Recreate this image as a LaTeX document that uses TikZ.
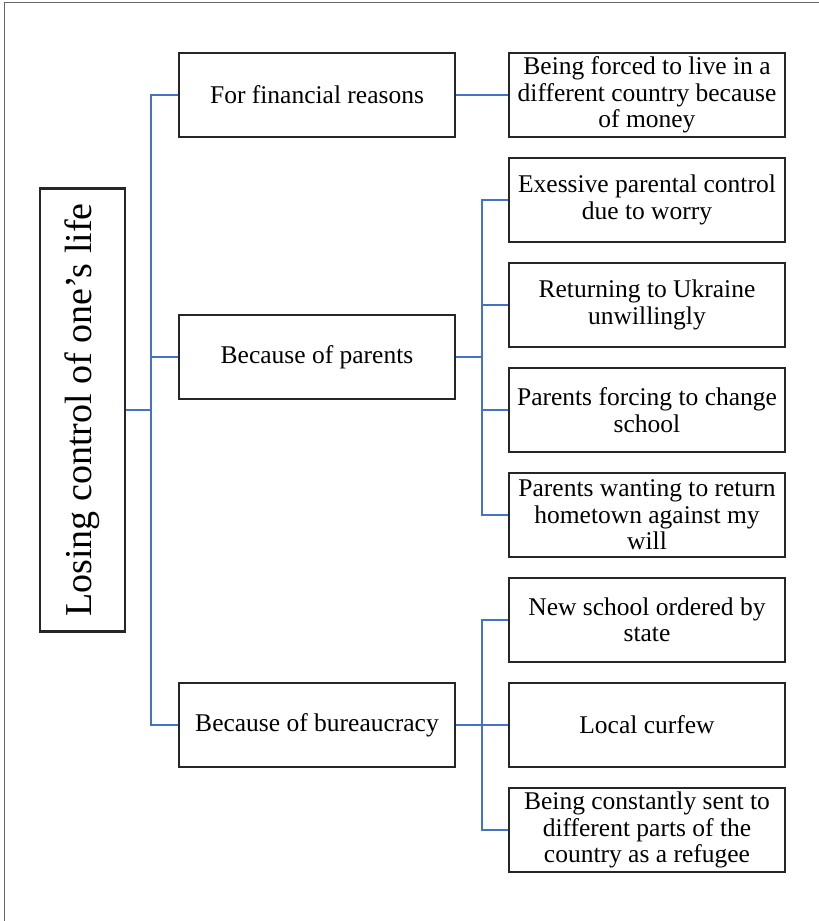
\documentclass[tikz,border=0pt]{standalone}
\usepackage{fontspec}
\setmainfont{Liberation Serif}
\usetikzlibrary{positioning}

\definecolor{linkblue}{HTML}{4472C4}
\definecolor{boxgray}{HTML}{262626}

\tikzset{
	leaf/.style={draw=boxgray, line width=2.4pt, minimum width=276pt, minimum height=84pt,
		align=center, inner sep=0pt,
		font=\fontsize{25.5}{26.5}\selectfont},
	link/.style={draw=linkblue, line width=1.8pt}
}

\begin{document}
\begin{tikzpicture}[x=1pt, y=-1pt]

	\useasboundingbox (0,0) rectangle (819,921);

	% frame
	\draw[gray!80!black, line width=1.3pt] (4.7,921) -- (4.7,2.7) -- (819,2.7);

	% root
	\node[draw=boxgray, line width=2.4pt, minimum width=443pt, minimum height=85pt,
		inner sep=0pt, rotate=90, font=\fontsize{38}{40}\selectfont]
		(root) at (82.5,410) {Losing control of one's life};

	% first level
	\node[leaf] (fin) at (317,95) {For financial reasons};
	\node[leaf] (par) at (317,357) {Because of parents};
	\node[leaf] (bur) at (317,725) {Because of bureaucracy};

	% second level
	\node[leaf] (money) at (647,95) {Being forced to live in a\\ different country because\\ of money};

	\node[leaf] (worry)  at (647,200) {Exessive parental control\\ due to worry};
	\node[leaf] (ukr)    at (647,305) {Returning to Ukraine\\ unwillingly};
	\node[leaf] (school) at (647,410) {Parents forcing to change\\ school};
	\node[leaf] (home)   at (647,515) {Parents wanting to return\\ hometown against my\\ will};

	\node[leaf] (state)   at (647,620) {New school ordered by\\ state};
	\node[leaf] (curfew)  at (647,725) {Local curfew};
	\node[leaf] (refugee) at (647,830) {Being constantly sent to\\ different parts of the\\ country as a refugee};

	% spines
	\coordinate (trunk) at (151,0);
	\coordinate (spine) at (482,0);

	\draw[link] (root.south) -- (root.south -| trunk) |- (fin.west);
	\draw[link] (root.south -| trunk) |- (par.west);
	\draw[link] (root.south -| trunk) |- (bur.west);

	\draw[link] (fin.east) -- (money.west);

	\draw[link] (par.east) -- (par.east -| spine) |- (worry.west);
	\draw[link] (par.east -| spine) |- (ukr.west);
	\draw[link] (par.east -| spine) |- (school.west);
	\draw[link] (par.east -| spine) |- (home.west);

	\draw[link] (bur.east) -- (bur.east -| spine) |- (state.west);
	\draw[link] (bur.east -| spine) |- (curfew.west);
	\draw[link] (bur.east -| spine) |- (refugee.west);

\end{tikzpicture}
\end{document}
